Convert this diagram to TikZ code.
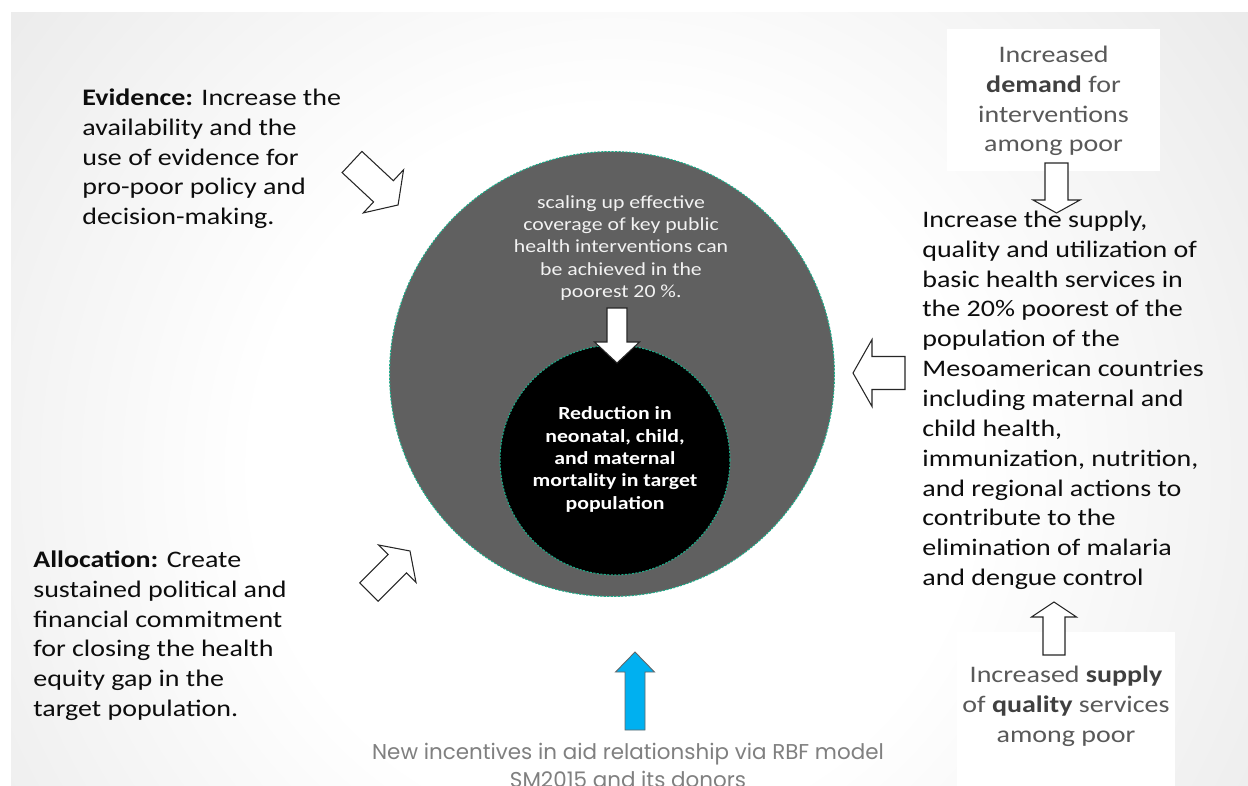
\documentclass[tikz,border=0pt]{standalone}
\usepackage{fontspec}
\setmainfont{Carlito}[FakeStretch=1.18]
\newfontfamily\gothic{Poppins}

\definecolor{bggray}{HTML}{D4D4D4}
\definecolor{ringgray}{HTML}{606060}
\definecolor{rimteal}{HTML}{1AAE8A}
\definecolor{boxtext}{HTML}{595959}
\definecolor{boxbold}{HTML}{404040}
\definecolor{capgray}{HTML}{808080}
\definecolor{rbfblue}{HTML}{00B0F0}

% white in the middle of the slide, grey towards the edges
\pgfdeclareradialshading{slideglow}{\pgfpoint{0bp}{0bp}}{color(0bp)=(white); color(9bp)=(white); color(31bp)=(bggray); color(50bp)=(bggray)}

% block arrow along +x: length / shaft width / head width / head length
\tikzset{
  pics/blockarrow/.style n args={4}{code={
    \path[pic actions] (0,-#2/2) -- (#1-#4,-#2/2) -- (#1-#4,-#3/2) -- (#1,0)
      -- (#1-#4,#3/2) -- (#1-#4,#2/2) -- (0,#2/2) -- cycle;
  }},
}

\begin{document}
\begin{tikzpicture}[x=0.02cm, y=-0.02cm,
  hollow/.style={draw=black!85, line width=0.6pt, fill=white},
  bluearrow/.style={draw=black!60, line width=0.5pt, fill=rbfblue},
  bodytext/.style={anchor=north west, inner sep=0pt, align=left, text=black!95,
    font=\fontsize{13.5}{17}\selectfont},
  notebox/.style={fill=white, inner sep=0pt},
  notetext/.style={anchor=north, inner sep=0pt, align=center, text=boxtext,
    font=\fontsize{13.5}{17}\selectfont},
  rim/.style={draw=rimteal, line width=0.6pt, dash pattern=on 1.2pt off 0.8pt},
]
\useasboundingbox (0,0) rectangle (1248,785);

% slide background
\begin{scope}
\clip (11,12) rectangle (1248,785);
\shade[shading=slideglow] (615,470) circle (1000);
\end{scope}

% white note boxes on the right
\node[notebox, minimum width=4.26cm, minimum height=2.84cm] (demandbox) at (1053.5,100) {};
\node[notebox, minimum width=4.36cm, minimum height=3.16cm] (supplybox) at (1066,711) {};

% the two circles
\node[circle, rim, fill=ringgray, minimum size=8.9cm] (ring) at (612,374) {};
\node[circle, rim, fill=black, minimum size=4.6cm, align=center, text=white,
  font=\bfseries\fontsize{10.5}{12.75}\selectfont] (core) at (615,460)
  {\strut Reduction in\\ neonatal, child,\\ and maternal\\ mortality in target\\ population\strut};

% arrows
\pic[hollow, rotate=-43] (evarrow) at (352,162) {blockarrow={63}{29}{59}{20}};
\pic[hollow, rotate=45] (alarrow) at (369,592) {blockarrow={58}{26}{53}{18}};
\pic[hollow, rotate=180] (supplyarrow) at (905,373) {blockarrow={52}{33}{67}{19}};
\pic[hollow, rotate=-90] (demandarrow) at (1056.5,163) {blockarrow={50}{23}{47}{13}};
\pic[hollow, rotate=90] (qualityarrow) at (1054,655) {blockarrow={53}{22}{45}{15}};
\pic[hollow, rotate=-90] (innerarrow) at (617,308) {blockarrow={55}{20}{45}{21}};
\pic[bluearrow, rotate=90] (rbfarrow) at (635,730) {blockarrow={78}{20}{39}{20}};

% texts
\node[bodytext] (evidence) at (82,84)
  {\strut\textbf{Evidence:} Increase the\\ availability and the\\ use of evidence for\\
   pro-poor policy and\\ decision-making.};
\node[bodytext] (allocation) at (33,546)
  {\strut\textbf{Allocation:} Create\\ sustained political and\\ financial commitment\\
   for closing the health\\ equity gap in the\\ target population.};
\node[bodytext] (services) at (922,206)
  {\strut Increase the supply,\\ quality and utilization of\\ basic health services in\\
   the 20\% poorest of the\\ population of the\\ Mesoamerican countries\\
   including maternal and\\ child health,\\ immunization, nutrition,\\
   and regional actions to\\ contribute to the\\ elimination of malaria\\
   and dengue control};
\node[notetext] (demand) at (1053.5,41)
  {\strut Increased\\ \textcolor{boxbold}{\textbf{demand}} for\\ interventions\\ among poor};
\node[notetext] (supply) at (1066,661)
  {\strut Increased \textcolor{boxbold}{\textbf{supply}}\\
   of \textcolor{boxbold}{\textbf{quality}} services\\ among poor};
\node[anchor=north, inner sep=0pt, align=center, text=white!95!black,
  font=\fontsize{10.5}{12.75}\selectfont] (scaling) at (621,192)
  {\strut scaling up effective\\ coverage of key public\\ health interventions can\\
   be achieved in the\\ poorest 20 \%.};
\node[anchor=north, inner sep=0pt, align=center, text=capgray,
  font=\gothic\fontsize{12.2}{16}\selectfont] (rbfnote) at (628,739)
  {\strut New incentives in aid relationship via RBF model\\ SM2015 and its donors};
\end{tikzpicture}
\end{document}
